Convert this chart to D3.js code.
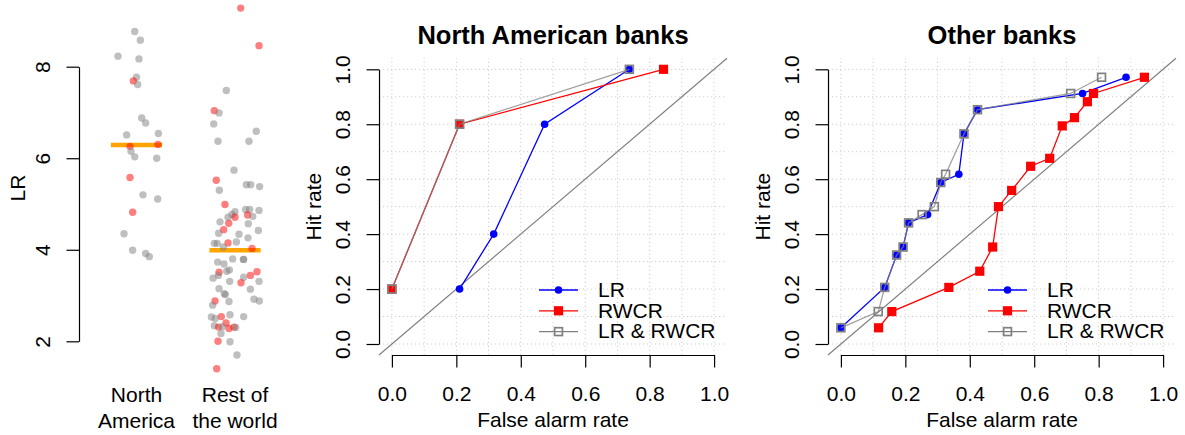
<!DOCTYPE html>
<html>
<head>
<meta charset="utf-8">
<script src="https://cdn.jsdelivr.net/npm/d3@7/dist/d3.min.js"></script>
<style>
  body { margin: 0; background: #fff; }
  svg { display: block; font-family: "Liberation Sans", Arial, Helvetica, sans-serif; }
</style>
</head>
<body>
<div id="chart"></div>
<script>
// strip chart data
var groupLabels = [['North', 'America'], ['Rest of', 'the world']];
var groupLevels = [6.29, 3.99];
var lrTicks = [2, 4, 6, 8];

var naValues = [8.77, 8.58, 8.23, 8.17, 7.77, 7.69, 7.61, 6.88, 6.77, 6.51, 6.54, 6.26,
  6.30, 6.15, 6.03, 6.00, 5.58, 5.20, 5.11, 4.82, 4.35, 3.99, 3.92, 3.85];
var naJitter = [-0.018, 0.039, -0.188, 0.025, 0, -0.032, 0.012, 0.053, 0.093, -0.1, 0.222, -0.066,
  0.218, -0.056, -0.018, 0.205, -0.066, 0.066, 0.215, -0.039, -0.127, -0.039, 0.093, 0.13];
var naRed = [0, 0, 0, 0, 0, 1, 0, 0, 0, 0, 0, 1, 1, 0, 0, 0, 1, 0, 0, 1, 0, 0, 0, 0];

var rowValues = [9.28, 8.46, 7.48, 7.04, 6.99, 6.75, 6.59, 6.37, 6.37, 5.74, 5.52, 5.30,
  5.42, 5.42, 5.38, 4.99, 4.88, 4.88, 4.86, 4.83, 4.77, 4.71, 4.76, 4.73,
  4.61, 4.58, 4.57, 4.44, 4.36, 4.34, 4.42, 4.15, 4.14, 4.14, 4.17, 4.26,
  4.06, 4.03, 3.80, 3.79, 3.79, 3.73, 3.69, 3.51, 3.56, 3.53, 3.38, 3.44,
  3.52, 3.44, 3.40, 3.28, 3.31, 3.31, 3.15, 3.14, 3.04, 3.02, 2.88, 2.79,
  2.87, 2.92, 2.88, 2.53, 2.54, 2.58, 2.54, 2.50, 2.40, 2.34, 2.31, 2.28,
  2.31, 2.30, 2.32, 2.17, 2.00, 1.99, 1.70, 1.40, 4.71];
var rowJitter = [0.058, 0.244, -0.088, -0.21, -0.162, -0.216, 0.216, -0.173, 0.142, -0.01, -0.19, -0.159,
  0.115, 0.159, 0.25, -0.102, 0.108, 0.149, 0.244, 0, -0.03, 0, 0.128, 0.18,
  -0.152, -0.064, 0.135, -0.115, -0.166, 0.041, 0.237, -0.071, -0.21, -0.18, 0.014, 0.132,
  -0.118, 0.173, -0.024, 0.085, 0.088, -0.176, -0.112, -0.162, -0.057, -0.084, -0.223, -0.169,
  0.223, 0.156, 0.088, 0.061, -0.054, 0.244, -0.162, 0.156, -0.108, -0.098, -0.203, -0.227,
  -0.061, 0.193, 0.247, -0.24, -0.139, -0.051, 0.088, -0.2, -0.091, -0.21, -0.166, -0.061,
  -0.01, 0.007, -0.129, -0.142, -0.173, -0.051, 0.02, -0.186, -0.071];
var rowRed = [1, 1, 0, 1, 0, 0, 0, 0, 0, 0, 1, 0,
  0, 0, 0, 1, 0, 0, 0, 0, 0, 1, 1, 0,
  0, 1, 0, 1, 0, 0, 0, 1, 0, 0, 0, 0,
  0, 1, 0, 0, 0, 0, 0, 1, 0, 0, 0, 0,
  1, 1, 0, 1, 0, 0, 0, 0, 0, 0, 1, 0,
  0, 0, 0, 0, 1, 0, 0, 0, 1, 0, 1, 1,
  1, 0, 0, 0, 1, 0, 0, 1, 0];

// ROC data
var rateTicks = [0, 0.2, 0.4, 0.6, 0.8, 1];
var gridSteps = [0, 0.1, 0.2, 0.3, 0.4, 0.5, 0.6, 0.7, 0.8, 0.9, 1];
var seriesNames = ['LR', 'RWCR', 'LR & RWCR'];

var naFalseLR = [0.21, 0.316, 0.474, 0.737];
var naHitLR = [0.2, 0.4, 0.8, 1.0];
var naFalseRWCR = [0, 0.21, 0.843];
var naHitRWCR = [0.2, 0.8, 1.0];
var naFalseBoth = [0, 0.21, 0.737];
var naHitBoth = [0.2, 0.8, 1.0];

var otherFalseLR = [0, 0.136, 0.173, 0.193, 0.21, 0.269, 0.31, 0.366, 0.382, 0.424, 0.75, 0.885];
var otherHitLR = [0.059, 0.206, 0.324, 0.353, 0.441, 0.471, 0.588, 0.618, 0.765, 0.853, 0.912, 0.971];
var otherFalseRWCR = [0.117, 0.158, 0.335, 0.431, 0.471, 0.489, 0.53, 0.589, 0.648, 0.687, 0.725, 0.765, 0.784, 0.942];
var otherHitRWCR = [0.059, 0.118, 0.206, 0.265, 0.353, 0.5, 0.559, 0.647, 0.676, 0.794, 0.824, 0.882, 0.912, 0.971];
var otherFalseBoth = [0, 0.116, 0.136, 0.173, 0.193, 0.21, 0.252, 0.29, 0.31, 0.325, 0.382, 0.424, 0.713, 0.809];
var otherHitBoth = [0.059, 0.118, 0.206, 0.324, 0.353, 0.441, 0.471, 0.5, 0.588, 0.618, 0.765, 0.853, 0.912, 0.971];

var styles = [
  { color: '#0000ff', shape: 'circle', opacity: 1 },
  { color: '#ff0000', shape: 'square', opacity: 1 },
  { color: '#808080', shape: 'open', opacity: 0.75 },
];

var fontSize = 21;
var tickLen = 12.5;

var svg = d3.select('#chart').append('svg')
  .attr('width', 1185)
  .attr('height', 435);
svg.append('rect').attr('width', 1185).attr('height', 435).attr('fill', '#fff');

drawStrip();
drawRoc(379, 'North American banks',
  [naFalseLR, naFalseRWCR, naFalseBoth], [naHitLR, naHitRWCR, naHitBoth]);
drawRoc(828, 'Other banks',
  [otherFalseLR, otherFalseRWCR, otherFalseBoth], [otherHitLR, otherHitRWCR, otherHitBoth]);

function drawStrip() {
  var x = d3.scaleLinear().domain([1, 2]).range([136.5, 235]);
  var y = d3.scaleLinear().domain([2, 8]).range([341.3, 66.7]);
  var axisX = 79;

  var ax = svg.append('g')
    .attr('transform', 'translate(' + axisX + ',0)')
    .call(d3.axisLeft(y).tickValues(lrTicks).tickSize(tickLen).tickSizeOuter(0).tickFormat(d3.format('d')));
  styleAxis(ax);
  ax.selectAll('text')
    .attr('transform', 'rotate(-90)')
    .attr('x', 0)
    .attr('y', -29)
    .attr('dy', null)
    .style('text-anchor', 'middle');

  svg.append('text')
    .attr('transform', 'translate(25,' + y(5.35) + ') rotate(-90)')
    .attr('text-anchor', 'middle')
    .attr('font-size', fontSize)
    .text('LR');

  // level lines drawn under the points
  svg.selectAll('.level')
    .data(groupLevels)
  .enter()
    .append('line')
    .attr('x1', function (d, i) { return x(i + 1 - 0.26); })
    .attr('x2', function (d, i) { return x(i + 1 + 0.26); })
    .attr('y1', function (d) { return y(d); })
    .attr('y2', function (d) { return y(d); })
    .attr('stroke', '#ffa500')
    .attr('stroke-width', 4.5);

  var pts = [];
  naValues.forEach(function (v, i) { pts.push({ g: 1, j: naJitter[i], v: v, red: naRed[i] }); });
  rowValues.forEach(function (v, i) { pts.push({ g: 2, j: rowJitter[i], v: v, red: rowRed[i] }); });

  svg.selectAll('.pt')
    .data(pts)
  .enter()
    .append('circle')
    .attr('cx', function (d) { return x(d.g + d.j); })
    .attr('cy', function (d) { return y(d.v); })
    .attr('r', 3.7)
    .attr('fill', function (d) { return d.red ? 'rgba(255,0,0,0.5)' : 'rgba(128,128,128,0.5)'; });

  groupLabels.forEach(function (lines, i) {
    lines.forEach(function (t, k) {
      svg.append('text')
        .attr('x', x(i + 1))
        .attr('y', 402 + k * 26)
        .attr('text-anchor', 'middle')
        .attr('font-size', fontSize)
        .text(t);
    });
  });
}

function drawRoc(left, title, falseSets, hitSets) {
  var x = d3.scaleLinear().domain([0, 1]).range([left + 12.9, left + 12.9 + 322.2]);
  var y = d3.scaleLinear().domain([0, 1]).range([344, 69.3]);
  var lo = -0.04, hi = 1.04;
  var g = svg.append('g');

  // dotted grid
  g.selectAll('.hgrid')
    .data(gridSteps)
  .enter()
    .append('line')
    .attr('x1', x(lo)).attr('x2', x(hi))
    .attr('y1', function (d) { return y(d); })
    .attr('y2', function (d) { return y(d); })
    .attr('stroke', '#cfcfcf')
    .attr('stroke-dasharray', '1.2,2.8');
  g.selectAll('.vgrid')
    .data(gridSteps)
  .enter()
    .append('line')
    .attr('y1', y(lo)).attr('y2', y(hi))
    .attr('x1', function (d) { return x(d); })
    .attr('x2', function (d) { return x(d); })
    .attr('stroke', '#cfcfcf')
    .attr('stroke-dasharray', '1.2,2.8');

  // diagonal
  g.append('line')
    .attr('x1', x(lo)).attr('y1', y(lo))
    .attr('x2', x(hi)).attr('y2', y(hi))
    .attr('stroke', '#808080')
    .attr('stroke-width', 1.2);

  var ax = g.append('g')
    .attr('transform', 'translate(0,' + y(lo) + ')')
    .call(d3.axisBottom(x).tickValues(rateTicks).tickSize(tickLen).tickSizeOuter(0).tickFormat(d3.format('.1f')));
  styleAxis(ax);
  ax.selectAll('text')
    .attr('y', 401.5 - y(lo))
    .attr('dy', null);

  var ay = g.append('g')
    .attr('transform', 'translate(' + x(lo) + ',0)')
    .call(d3.axisLeft(y).tickValues(rateTicks).tickSize(tickLen).tickSizeOuter(0).tickFormat(d3.format('.1f')));
  styleAxis(ay);
  ay.selectAll('text')
    .attr('transform', 'rotate(-90)')
    .attr('x', 0)
    .attr('y', -29.5)
    .attr('dy', null)
    .style('text-anchor', 'middle');

  g.append('text')
    .attr('x', x(0.5))
    .attr('y', 427)
    .attr('text-anchor', 'middle')
    .attr('font-size', fontSize)
    .text('False alarm rate');
  g.append('text')
    .attr('transform', 'translate(' + (x(lo) - 58) + ',' + y(0.5) + ') rotate(-90)')
    .attr('text-anchor', 'middle')
    .attr('font-size', fontSize)
    .text('Hit rate');
  g.append('text')
    .attr('x', x(0.5))
    .attr('y', 43.5)
    .attr('text-anchor', 'middle')
    .attr('font-size', 25.5)
    .attr('font-weight', 'bold')
    .text(title);

  var line = d3.line()
    .x(function (d) { return x(d[0]); })
    .y(function (d) { return y(d[1]); });

  falseSets.forEach(function (fa, s) {
    var pts = fa.map(function (f, i) { return [f, hitSets[s][i]]; });
    var st = styles[s];
    g.append('path')
      .datum(pts)
      .attr('d', line)
      .attr('fill', 'none')
      .attr('stroke', st.color)
      .attr('stroke-opacity', st.opacity)
      .attr('stroke-width', 1.3);
    pts.forEach(function (p) {
      marker(g, x(p[0]), y(p[1]), st);
    });
  });

  // legend
  var lx = x(lo) + 160;
  var rows = [290, 310.8, 331.6];
  seriesNames.forEach(function (name, s) {
    var st = styles[s];
    g.append('line')
      .attr('x1', lx).attr('x2', lx + 39)
      .attr('y1', rows[s]).attr('y2', rows[s])
      .attr('stroke', st.color)
      .attr('stroke-width', 1.3);
    marker(g, lx + 19.5, rows[s], st);
    g.append('text')
      .attr('x', lx + 59)
      .attr('y', rows[s] + 6.8)
      .attr('font-size', fontSize)
      .text(name);
  });
}

function marker(g, cx, cy, st) {
  if (st.shape === 'circle') {
    g.append('circle').attr('cx', cx).attr('cy', cy).attr('r', 3.8).attr('fill', st.color);
  } else if (st.shape === 'square') {
    g.append('rect')
      .attr('x', cx - 4.6).attr('y', cy - 4.6)
      .attr('width', 9.2).attr('height', 9.2)
      .attr('fill', st.color);
  } else {
    g.append('rect')
      .attr('x', cx - 3.9).attr('y', cy - 3.9)
      .attr('width', 7.8).attr('height', 7.8)
      .attr('fill', 'none')
      .attr('stroke', st.color)
      .attr('stroke-width', 1.7);
  }
}

function styleAxis(ax) {
  ax.select('.domain').attr('stroke', '#000').attr('stroke-width', 1.2);
  ax.selectAll('.tick line').attr('stroke', '#000').attr('stroke-width', 1.2);
  ax.selectAll('text')
    .attr('fill', '#000')
    .attr('font-size', fontSize)
    .attr('font-family', null);
  ax.attr('font-family', null).attr('font-size', null);
}
</script>
</body>
</html>
